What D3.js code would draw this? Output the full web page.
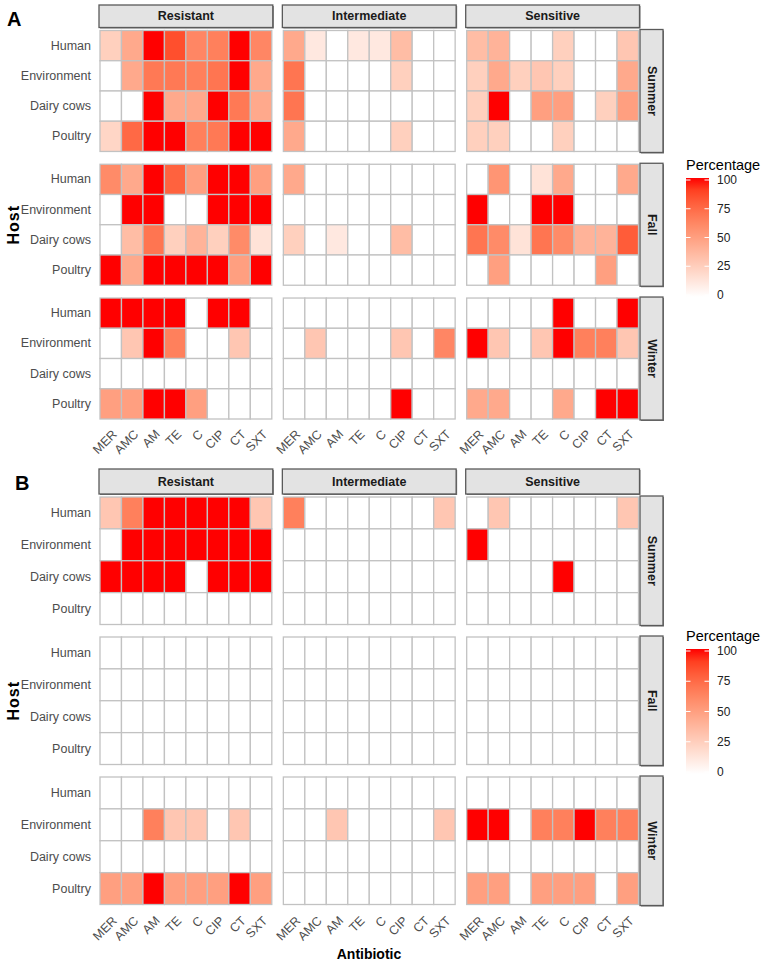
<!DOCTYPE html>
<html>
<head>
<meta charset="utf-8">
<script src="https://cdn.jsdelivr.net/npm/d3@7"></script>
<style>
  body { margin: 0; background: #fff; }
</style>
</head>
<body>
<script>
// categories and tick labels
var antibiotics = ["MER", "AMC", "AM", "TE", "C", "CIP", "CT", "SXT"];
var hosts = ["Human", "Environment", "Dairy cows", "Poultry"];
var categories = ["Resistant", "Intermediate", "Sensitive"];
var seasons = ["Summer", "Fall", "Winter"];
var legendTicks = [0, 25, 50, 75, 100];

// percentages, rows = season x host (Summer H/E/D/P, Fall H/E/D/P, Winter H/E/D/P), cols = antibiotics
var aResistant = [
  [25, 45, 100, 85, 62, 65, 100, 62],
  [0, 45, 68, 68, 65, 70, 100, 45],
  [0, 0, 100, 45, 45, 100, 68, 45],
  [22, 75, 100, 100, 65, 68, 100, 100],
  [60, 45, 100, 78, 50, 100, 100, 50],
  [0, 100, 100, 0, 0, 100, 100, 100],
  [0, 35, 70, 25, 40, 25, 60, 15],
  [100, 45, 100, 100, 100, 100, 50, 100],
  [100, 100, 100, 100, 0, 100, 100, 0],
  [0, 30, 100, 65, 0, 0, 30, 0],
  [0, 0, 0, 0, 0, 0, 0, 0],
  [50, 50, 100, 100, 50, 0, 0, 0]
];
var aIntermediate = [
  [45, 12, 0, 12, 12, 35, 0, 0],
  [70, 0, 0, 0, 0, 25, 0, 0],
  [70, 0, 0, 0, 0, 0, 0, 0],
  [45, 0, 0, 0, 0, 25, 0, 0],
  [45, 0, 0, 0, 0, 0, 0, 0],
  [0, 0, 0, 0, 0, 0, 0, 0],
  [25, 0, 12, 0, 0, 35, 0, 0],
  [0, 0, 0, 0, 0, 0, 0, 0],
  [0, 0, 0, 0, 0, 0, 0, 0],
  [0, 30, 0, 0, 0, 30, 0, 62],
  [0, 0, 0, 0, 0, 0, 0, 0],
  [0, 0, 0, 0, 0, 100, 0, 0]
];
var aSensitive = [
  [35, 40, 0, 0, 25, 0, 0, 30],
  [25, 45, 25, 30, 25, 0, 0, 45],
  [25, 100, 0, 50, 50, 0, 25, 50],
  [25, 25, 0, 0, 25, 0, 0, 0],
  [0, 55, 0, 15, 45, 0, 0, 45],
  [100, 0, 0, 100, 100, 0, 0, 0],
  [70, 60, 15, 70, 60, 40, 40, 80],
  [0, 50, 0, 0, 0, 0, 50, 0],
  [0, 0, 0, 0, 100, 0, 0, 100],
  [100, 30, 0, 30, 100, 65, 65, 30],
  [0, 0, 0, 0, 0, 0, 0, 0],
  [45, 45, 0, 0, 45, 0, 100, 100]
];

var bResistant = [
  [30, 65, 100, 100, 100, 100, 100, 30],
  [0, 100, 100, 100, 100, 100, 100, 100],
  [100, 100, 100, 100, 0, 100, 100, 100],
  [0, 0, 0, 0, 0, 0, 0, 0],
  [0, 0, 0, 0, 0, 0, 0, 0],
  [0, 0, 0, 0, 0, 0, 0, 0],
  [0, 0, 0, 0, 0, 0, 0, 0],
  [0, 0, 0, 0, 0, 0, 0, 0],
  [0, 0, 0, 0, 0, 0, 0, 0],
  [0, 0, 65, 30, 30, 0, 30, 0],
  [0, 0, 0, 0, 0, 0, 0, 0],
  [50, 50, 100, 50, 50, 50, 100, 50]
];
var bIntermediate = [
  [65, 0, 0, 0, 0, 0, 0, 30],
  [0, 0, 0, 0, 0, 0, 0, 0],
  [0, 0, 0, 0, 0, 0, 0, 0],
  [0, 0, 0, 0, 0, 0, 0, 0],
  [0, 0, 0, 0, 0, 0, 0, 0],
  [0, 0, 0, 0, 0, 0, 0, 0],
  [0, 0, 0, 0, 0, 0, 0, 0],
  [0, 0, 0, 0, 0, 0, 0, 0],
  [0, 0, 0, 0, 0, 0, 0, 0],
  [0, 0, 30, 0, 0, 0, 0, 30],
  [0, 0, 0, 0, 0, 0, 0, 0],
  [0, 0, 0, 0, 0, 0, 0, 0]
];
var bSensitive = [
  [0, 30, 0, 0, 0, 0, 0, 30],
  [100, 0, 0, 0, 0, 0, 0, 0],
  [0, 0, 0, 0, 100, 0, 0, 0],
  [0, 0, 0, 0, 0, 0, 0, 0],
  [0, 0, 0, 0, 0, 0, 0, 0],
  [0, 0, 0, 0, 0, 0, 0, 0],
  [0, 0, 0, 0, 0, 0, 0, 0],
  [0, 0, 0, 0, 0, 0, 0, 0],
  [0, 0, 0, 0, 0, 0, 0, 0],
  [100, 100, 0, 65, 65, 100, 65, 65],
  [0, 0, 0, 0, 0, 0, 0, 0],
  [50, 50, 0, 50, 50, 50, 0, 50]
];

var FONT = "'Liberation Sans', Arial, sans-serif";
var color = d3.scaleLinear().domain([0, 100]).range(["white", "red"]).interpolate(d3.interpolateLab);

var svg = d3.select("body").append("svg")
    .attr("width", 767)
    .attr("height", 965)
    .style("font-family", FONT);

var defs = svg.append("defs");

function drawPanel(p) {
  var g = svg.append("g");

  // white backing (panel B sits over the bottom of panel A)
  g.append("rect")
      .attr("x", 0).attr("y", p.bgTop)
      .attr("width", 767).attr("height", p.bgH)
      .attr("fill", "#fff");

  // facet scales
  var fx = d3.scaleBand().domain(categories).range([100, 638.5]).paddingInner(0.063);
  var fy = d3.scaleBand().domain(seasons).range([p.top, p.bottom]).paddingInner(p.gap);
  var x = d3.scaleBand().domain(antibiotics).range([0, fx.bandwidth()]);
  var y = d3.scaleBand().domain(hosts).range([0, fy.bandwidth()]);

  categories.forEach(function(cat, ci) {
    seasons.forEach(function(s, si) {
      var fg = g.append("g")
          .attr("transform", "translate(" + fx(cat) + "," + fy(s) + ")");

      var cells = [];
      hosts.forEach(function(h, hi) {
        antibiotics.forEach(function(a, ai) {
          cells.push({host: h, ab: a, v: p.values[ci][si * 4 + hi][ai]});
        });
      });

      fg.selectAll("rect.cell")
          .data(cells)
        .enter().append("rect")
          .attr("class", "cell")
          .attr("x", function(d) { return x(d.ab); })
          .attr("y", function(d) { return y(d.host); })
          .attr("width", x.bandwidth())
          .attr("height", y.bandwidth())
          .attr("fill", function(d) { return color(d.v); })
          .attr("stroke", "#c2c2c2")
          .attr("stroke-width", 1.3);

      // host labels on the first column of facets
      if (ci == 0) {
        var ya = fg.append("g")
            .call(d3.axisLeft(y).tickSize(0).tickPadding(9));
        ya.select(".domain").remove();
        ya.selectAll("text")
            .attr("font-family", FONT)
            .attr("font-size", 12.5)
            .attr("fill", "#4d4d4d");
      }

      // antibiotic labels under the last row of facets
      if (si == 2) {
        var xa = fg.append("g")
            .attr("transform", "translate(0," + fy.bandwidth() + ")")
            .call(d3.axisBottom(x).tickSize(0));
        xa.select(".domain").remove();
        xa.selectAll("text")
            .attr("y", 0)
            .attr("dy", 0)
            .attr("text-anchor", "end")
            .attr("transform", "translate(7," + p.xlabOff + ") rotate(-45)")
            .attr("font-family", FONT)
            .attr("font-size", 12.5)
            .attr("fill", "#4d4d4d");
      }
    });

    // top strip
    strip(g, fx(cat) - 1, p.stripTop, fx.bandwidth() + 2, p.stripH, cat, false);
  });

  // right strips
  seasons.forEach(function(s) {
    strip(g, 640, fy(s) - 1, 23, fy.bandwidth() + 2, s, true);
  });

  // axis titles
  g.append("text")
      .attr("transform", "translate(13," + ((p.top + p.bottom) / 2) + ") rotate(-90)")
      .attr("text-anchor", "middle")
      .attr("dominant-baseline", "central")
      .attr("font-weight", "bold")
      .attr("font-size", 16)
      .attr("letter-spacing", 1)
      .attr("fill", "#000")
      .text("Host");

  g.append("text")
      .attr("x", 369)
      .attr("y", p.titleY)
      .attr("text-anchor", "middle")
      .attr("font-weight", "bold")
      .attr("font-size", 14)
      .attr("fill", "#000")
      .text("Antibiotic");

  // panel letter
  g.append("text")
      .attr("x", p.labelX)
      .attr("y", p.labelY)
      .attr("font-weight", "bold")
      .attr("font-size", 20)
      .attr("fill", "#000")
      .text(p.label);

  // legend
  var ly = d3.scaleLinear().domain([0, 100]).range([p.legBottom, p.legTop]);
  var gid = "grad" + p.label;
  var grad = defs.append("linearGradient")
      .attr("id", gid)
      .attr("x1", 0).attr("y1", 1).attr("x2", 0).attr("y2", 0);
  d3.range(0, 101, 10).forEach(function(v) {
    grad.append("stop")
        .attr("offset", v + "%")
        .attr("stop-color", color(v));
  });

  g.append("text")
      .attr("x", 686)
      .attr("y", p.legTitleY)
      .attr("font-size", 14.5)
      .attr("fill", "#000")
      .text("Percentage");

  g.append("rect")
      .attr("x", 686)
      .attr("y", ly(100) - 2)
      .attr("width", 23)
      .attr("height", ly(0) - ly(100) + 4)
      .attr("fill", "url(#" + gid + ")");

  legendTicks.forEach(function(t) {
    g.append("line")
        .attr("x1", 686).attr("x2", 690.5)
        .attr("y1", ly(t)).attr("y2", ly(t))
        .attr("stroke", "#fff").attr("stroke-width", 1);
    g.append("line")
        .attr("x1", 704.5).attr("x2", 709)
        .attr("y1", ly(t)).attr("y2", ly(t))
        .attr("stroke", "#fff").attr("stroke-width", 1);
    g.append("text")
        .attr("x", 717)
        .attr("y", ly(t))
        .attr("dominant-baseline", "central")
        .attr("font-size", 12)
        .attr("fill", "#222")
        .text(t);
  });
}

function strip(g, x0, y0, w, h, label, vertical) {
  g.append("rect")
      .attr("x", x0 + 1).attr("y", y0 + 1)
      .attr("width", w).attr("height", h)
      .attr("fill", "#777");
  g.append("rect")
      .attr("x", x0).attr("y", y0)
      .attr("width", w).attr("height", h)
      .attr("fill", "#e3e3e3")
      .attr("stroke", "#5a5a5a")
      .attr("stroke-width", 1.3);
  var t = g.append("text")
      .attr("text-anchor", "middle")
      .attr("dominant-baseline", "central")
      .attr("font-weight", "bold")
      .attr("font-size", 12.5)
      .attr("fill", "#1a1a1a")
      .text(label);
  if (vertical) {
    t.attr("transform", "translate(" + (x0 + w / 2) + "," + (y0 + h / 2) + ") rotate(90)");
  } else {
    t.attr("x", x0 + w / 2).attr("y", y0 + h / 2);
  }
}

drawPanel({
  label: "A", labelX: 7, labelY: 26,
  values: [aResistant, aIntermediate, aSensitive],
  bgTop: 0, bgH: 465,
  top: 30.5, bottom: 419, gap: 0.0957,
  stripTop: 5, stripH: 22.5,
  xlabOff: 16, titleY: 473,
  legTitleY: 170, legTop: 180, legBottom: 295
});

drawPanel({
  label: "B", labelX: 15, labelY: 490,
  values: [bResistant, bIntermediate, bSensitive],
  bgTop: 461.5, bgH: 504,
  top: 497, bottom: 904.5, gap: 0.0893,
  stripTop: 469, stripH: 25,
  xlabOff: 17, titleY: 959,
  legTitleY: 641, legTop: 651, legBottom: 772
});
</script>
</body>
</html>
